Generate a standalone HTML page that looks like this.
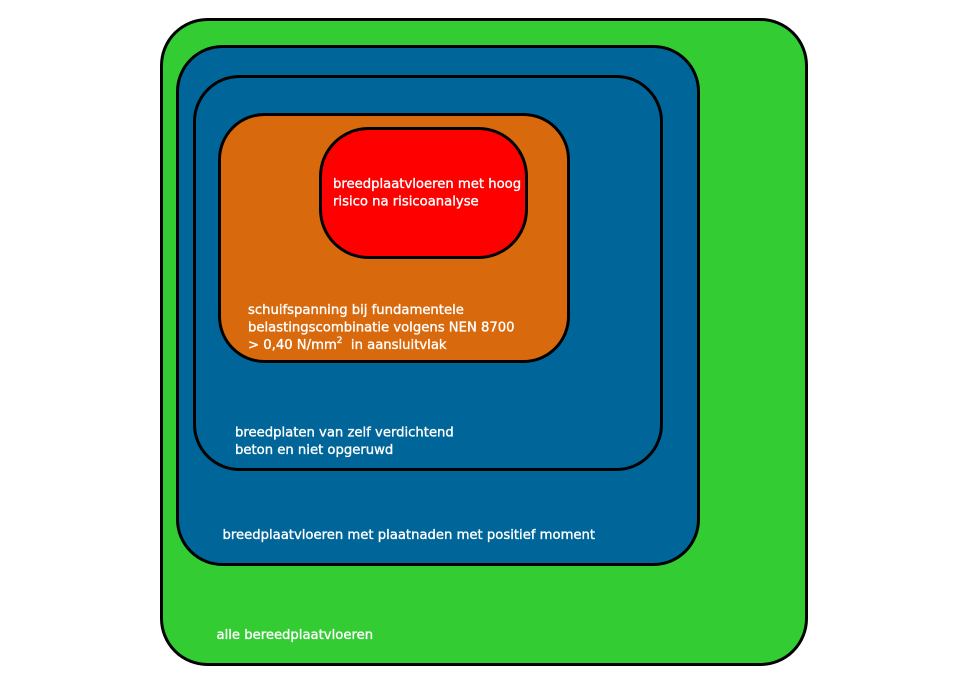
<!DOCTYPE html>
<html>
<head>
<meta charset="utf-8">
<style>
  html,body{margin:0;padding:0;background:#fff;}
  svg{display:block;}
  text{font-family:"DejaVu Sans","Liberation Sans",sans-serif;font-size:13.2px;fill:#ffffff;stroke:#ffffff;stroke-width:0.35px;}
</style>
</head>
<body>
<svg width="960" height="689" viewBox="0 0 960 689" xmlns="http://www.w3.org/2000/svg">
  <rect x="0" y="0" width="960" height="689" fill="#ffffff"/>
  <rect x="161.5" y="19.5" width="645" height="645" rx="46" ry="46" fill="#33CC33" stroke="#000" stroke-width="3"/>
  <rect x="177.5" y="46.5" width="521" height="518" rx="45" ry="45" fill="#006699" stroke="#000" stroke-width="3"/>
  <rect x="194.5" y="76.5" width="467" height="393" rx="45" ry="45" fill="#006699" stroke="#000" stroke-width="3"/>
  <rect x="219.5" y="114.5" width="349" height="247" rx="45" ry="45" fill="#D9690D" stroke="#000" stroke-width="3"/>
  <rect x="320.5" y="128.5" width="206" height="129" rx="48" ry="48" fill="#FF0000" stroke="#000" stroke-width="3"/>

  <text x="333" y="188">breedplaatvloeren met hoog</text>
  <text x="333" y="205.5">risico na risicoanalyse</text>

  <text x="248" y="314">schuifspanning bij fundamentele</text>
  <text x="248" y="331.5">belastingscombinatie volgens NEN 8700</text>
  <text x="248" y="349">&gt; 0,40 N/mm<tspan font-size="9" dy="-6">2</tspan><tspan dy="6" xml:space="preserve">  in aansluitvlak</tspan></text>

  <text x="235" y="436.5">breedplaten van zelf verdichtend</text>
  <text x="235" y="454">beton en niet opgeruwd</text>

  <text x="222.5" y="539">breedplaatvloeren met plaatnaden met positief moment</text>

  <text x="216.5" y="639">alle bereedplaatvloeren</text>
</svg>
</body>
</html>
